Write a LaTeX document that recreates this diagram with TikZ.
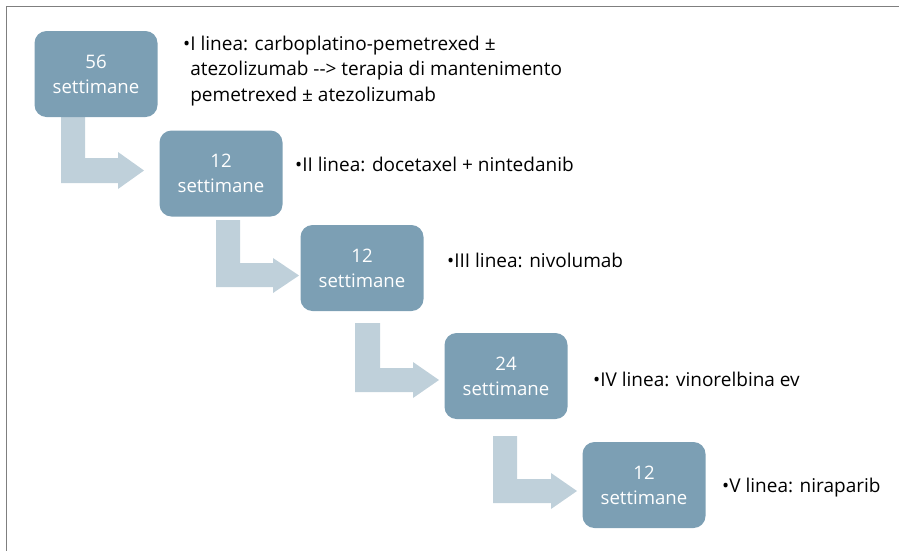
\documentclass[tikz,border=0pt]{standalone}
\usepackage{fontspec}
\setmainfont{Open Sans}
\definecolor{boxblue}{HTML}{7C9FB4}
\definecolor{arrowblue}{HTML}{BFD0DA}
\definecolor{framegray}{HTML}{7F7F7F}
\begin{document}
\begin{tikzpicture}[x=1pt,y=-1pt,
  stepbox/.style={fill=boxblue,rounded corners=12pt,minimum width=123pt,minimum height=86pt,
    text=white,align=center,inner sep=0pt,font=\fontsize{18.6}{25}\selectfont},
  bentarrow/.style={fill=arrowblue,draw=none},
  linetext/.style={anchor=base west,inner sep=0pt,align=left,text=black,font=\fontsize{19}{25.5}\selectfont}]
\useasboundingbox (0,0) rectangle (899,550);
\draw[framegray,line width=1.5pt] (6.5,552) -- (6.5,6.5) -- (900,6.5);
% bent arrows
\path[bentarrow] (61,116) -- (85,116) -- (85,158) -- (118,158) -- (118,152) -- (144,170.5) -- (118,189) -- (118,183) -- (61,183) -- cycle;
\path[bentarrow] (216,220) -- (240,220) -- (240,263) -- (273,263) -- (273,258) -- (299,275.5) -- (273,293) -- (273,287) -- (216,287) -- cycle;
\path[bentarrow] (355,323) -- (380,323) -- (380,368) -- (413,368) -- (413,362) -- (439,380) -- (413,398) -- (413,392) -- (355,392) -- cycle;
\path[bentarrow] (493,436) -- (517,436) -- (517,479) -- (551,479) -- (551,473) -- (577,491) -- (551,509) -- (551,503) -- (493,503) -- cycle;
% boxes
\node[stepbox] (b1) at (96,74) {56\\settimane};
\node[stepbox] (b2) at (221,173.5) {12\\settimane};
\node[stepbox] (b3) at (362,268) {12\\settimane};
\node[stepbox] (b4) at (506,376) {24\\settimane};
\node[stepbox] (b5) at (644,485) {12\\settimane};
% texts
\node[linetext] (t1) at (183,101) {•I linea: carboplatino-pemetrexed ±\\\phantom{•}atezolizumab {-}{-}> terapia di mantenimento\\\phantom{•}pemetrexed ± atezolizumab};
\node[linetext] (t2) at (295,171) {•II linea: docetaxel + nintedanib};
\node[linetext] (t3) at (447,267) {•III linea: nivolumab};
\node[linetext] (t4) at (593,386) {•IV linea: vinorelbina ev};
\node[linetext] (t5) at (722,492) {•V linea: niraparib};
\end{tikzpicture}
\end{document}
